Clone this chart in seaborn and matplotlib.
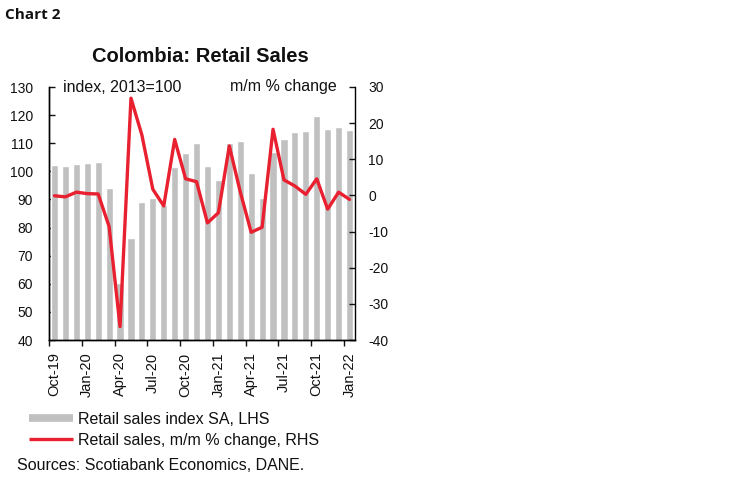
"""Colombia retail sales: index level (bars) and m/m % change (line)."""

import matplotlib

matplotlib.use("Agg")
import matplotlib.pyplot as plt
from matplotlib.lines import Line2D
import pandas as pd
import seaborn as sns

MONTHS = [
    "Oct-19", "Nov-19", "Dec-19", "Jan-20", "Feb-20", "Mar-20", "Apr-20",
    "May-20", "Jun-20", "Jul-20", "Aug-20", "Sep-20", "Oct-20", "Nov-20",
    "Dec-20", "Jan-21", "Feb-21", "Mar-21", "Apr-21", "May-21", "Jun-21",
    "Jul-21", "Aug-21", "Sep-21", "Oct-21", "Nov-21", "Dec-21", "Jan-22",
]
INDEX_SA = [
    102.1, 101.8, 102.6, 103.0, 103.3, 94.2, 60.4,
    76.4, 89.2, 90.6, 88.0, 101.5, 106.5, 110.2,
    101.9, 97.0, 110.2, 110.8, 99.5, 90.5, 106.8,
    111.4, 114.1, 114.5, 119.6, 115.1, 115.9, 114.7,
]
MOM_CHANGE = [
    -0.1, -0.4, 0.9, 0.5, 0.4, -8.6, -36.3,
    26.9, 16.7, 1.7, -2.9, 15.5, 4.6, 3.8,
    -7.6, -4.8, 13.7, 1.0, -10.2, -8.8, 18.3,
    4.3, 2.6, 0.3, 4.6, -3.8, 0.9, -1.1,
]
LEFT_TICKS = [40, 50, 60, 70, 80, 90, 100, 110, 120, 130]
RIGHT_TICKS = [-40, -30, -20, -10, 0, 10, 20, 30]

GREY = "#C0C0C0"
RED = "#E8202F"
INK = "#111111"

sns.set_style("white")
plt.rcParams["font.family"] = ["Liberation Sans", "DejaVu Sans"]
plt.rcParams["axes.unicode_minus"] = False
plt.rcParams["text.color"] = INK
plt.rcParams["xtick.color"] = INK
plt.rcParams["ytick.color"] = INK

data = pd.DataFrame({"month": MONTHS, "index": INDEX_SA, "mom": MOM_CHANGE})
data["pos"] = range(len(data))

fig = plt.figure(figsize=(7.5, 4.83), dpi=100)
ax = fig.add_axes([49 / 750, 1 - 340 / 483, 306 / 750, 253 / 483])

sns.barplot(data=data, x="month", y="index", color=GREY, width=0.66,
            saturation=1, ax=ax, zorder=1)
ax.set_ylim(40, 130)
ax.set_yticks(LEFT_TICKS)
ax.set_xlim(-0.5, len(MONTHS) - 0.5)
ax.set(xlabel="", ylabel="")

label_pos = list(range(0, len(MONTHS), 3))
ax.set_xticks(label_pos)
ax.set_xticklabels([MONTHS[i] for i in label_pos], rotation=90)
ax.set_xticks([p - 0.5 for p in label_pos], minor=True)
ax.tick_params(axis="x", which="major", length=0, pad=9, labelsize=10.5)
ax.tick_params(axis="x", which="minor", length=4, width=1, direction="out",
               bottom=True)
ax.tick_params(axis="y", direction="in", length=4, width=1, pad=11.5,
               labelsize=10, left=True)

rhs = ax.twinx()
sns.lineplot(data=data, x="pos", y="mom", color=RED, linewidth=2.4, ax=rhs)
rhs.set_ylim(-40, 30)
rhs.set_yticks(RIGHT_TICKS)
rhs.set(xlabel="", ylabel="")
rhs.tick_params(axis="y", direction="in", length=4, width=1, pad=9.5,
                labelsize=10, right=True)

for axis in (ax, rhs):
    axis.spines["top"].set_visible(False)
    for side in ("left", "right", "bottom"):
        axis.spines[side].set_color("black")
        axis.spines[side].set_linewidth(1)
ax.spines["right"].set_visible(False)

ax.text(14 / 306, 1.0, "index, 2013=100", transform=ax.transAxes,
        ha="left", va="center", fontsize=11.5)
rhs.text(288 / 306, 1.0, "m/m % change", transform=rhs.transAxes,
         ha="right", va="center", fontsize=11.5)

fig.text(200 / 750, 1 - 56 / 483, "Colombia: Retail Sales",
         ha="center", va="center", fontsize=14.5, fontweight="bold")
fig.text(5 / 750, 1 - 15 / 483, "Chart 2", ha="left", va="center",
         fontsize=11, fontweight="bold", family=["Open Sans", "DejaVu Sans"])

handles = [
    Line2D([], [], color=GREY, linewidth=5.5, solid_capstyle="butt"),
    Line2D([], [], color=RED, linewidth=2.4, solid_capstyle="butt"),
]
fig.legend(handles, ["Retail sales index SA, LHS",
                     "Retail sales, m/m % change, RHS"],
           loc="upper left", bbox_to_anchor=(29 / 750, 1 - 412 / 483),
           frameon=False, fontsize=11.5, handlelength=2.75,
           handletextpad=0.3, labelspacing=0.38, borderpad=0,
           borderaxespad=0)

fig.text(17 / 750, 1 - 465 / 483, "Sources: Scotiabank Economics, DANE.",
         ha="left", va="center", fontsize=11.5)

fig.savefig("out.png", dpi=100)
